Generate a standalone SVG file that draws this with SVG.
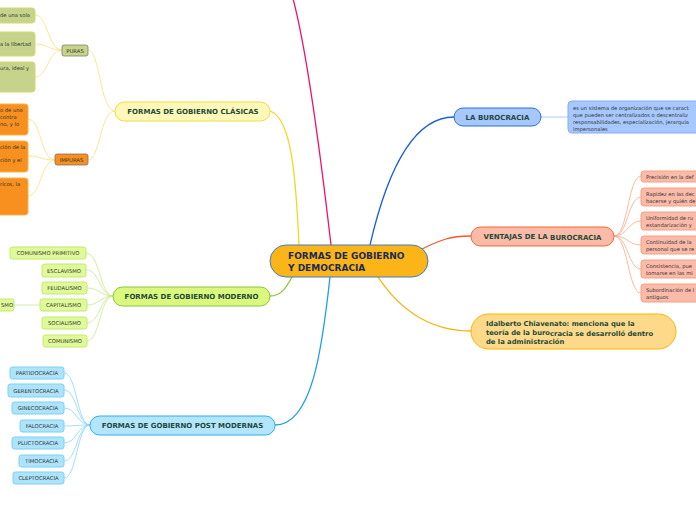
<svg xmlns="http://www.w3.org/2000/svg" width="696" height="520" viewBox="0 0 696 520">
<style>
text{font-family:"DejaVu Sans",Verdana,sans-serif}
.main{font-size:7px;font-weight:bold;fill:#1d4a3a;text-anchor:middle}
.sm{font-size:5.3px;fill:#333;text-anchor:middle}
.tx{font-size:5.2px;fill:#333}
.c{fill:none;stroke-width:1.3}
.f{fill:none;stroke-width:0.8}
.pg{fill:#C5D48A;stroke:#D8D868;stroke-width:1}
.po{fill:#F7901E;stroke:#F5B545;stroke-width:1}
.pm{fill:#E0FA9A;stroke:#C2EA6A;stroke-width:1}
.pb{fill:#AEE4FB;stroke:#7CCFF4;stroke-width:1}
.pv{fill:#FBBBA8;stroke:#F5A080;stroke-width:1}
</style>
<g id="connectors">
<path class="c" d="M331,245 C320,150 306,45 292,-5" stroke="#F0126A"/>
<path class="c" d="M299,245 C296,180 292,118 270,111" stroke="#F0D820"/>
<path class="c" d="M370,245 C385,180 410,117 454,117" stroke="#1C5FD6"/>
<path class="c" d="M292,277 C285,290 280,296 270,296" stroke="#8CC43C"/>
<path class="c" d="M330,277 C322,350 312,425 275,425" stroke="#1AA0E6"/>
<path class="c" d="M420,250 C440,240 450,236 471,236" stroke="#F4582A"/>
<path class="c" d="M378,277 C400,310 430,331 471,331" stroke="#F9B000"/>
<g stroke="#F5E27A">
<path class="f" d="M115,111 C100,111 100,50 88,50"/>
<path class="f" d="M115,111 C100,111 100,160 88,160"/>
<path class="f" d="M62,50 C48,50 48,15 35,15"/>
<path class="f" d="M62,50 C48,50 48,44 35,44"/>
<path class="f" d="M62,50 C48,50 48,77 35,77"/>
<path class="f" d="M55,160 C41,160 41,119 28,119"/>
<path class="f" d="M55,160 C41,160 41,156 28,156"/>
<path class="f" d="M55,160 C41,160 41,196 28,196"/>
</g>
<g stroke="#C8E88A">
<path class="f" d="M113,296 C100,296 100,253 86,253"/>
<path class="f" d="M113,296 C100,296 100,270 86,270"/>
<path class="f" d="M113,296 C100,296 100,288 87,288"/>
<path class="f" d="M113,296 C100,296 100,305 87,305"/>
<path class="f" d="M113,296 C100,296 100,323 87,323"/>
<path class="f" d="M113,296 C100,296 100,341 87,341"/>
<path class="f" d="M40,305 L14,305"/>
</g>
<g stroke="#8AD4F6">
<path class="f" d="M90,425 C77,425 77,373 64,373"/>
<path class="f" d="M90,425 C77,425 77,390 64,390"/>
<path class="f" d="M90,425 C77,425 77,408 64,408"/>
<path class="f" d="M90,425 C77,425 77,426 64,426"/>
<path class="f" d="M90,425 C77,425 77,443 64,443"/>
<path class="f" d="M90,425 C77,425 77,461 64,461"/>
<path class="f" d="M90,425 C77,425 77,478 64,478"/>
</g>
<path class="f" d="M541,117 L568,117" stroke="#9ABCF0"/>
<g stroke="#F8A888">
<path class="f" d="M614,236 C628,236 628,176 641,176"/>
<path class="f" d="M614,236 C628,236 628,197 641,197"/>
<path class="f" d="M614,236 C628,236 628,221 641,221"/>
<path class="f" d="M614,236 C628,236 628,245 641,245"/>
<path class="f" d="M614,236 C628,236 628,269 641,269"/>
<path class="f" d="M614,236 C628,236 628,293 641,293"/>
</g>
</g>
<g id="central">
<rect x="270" y="245" width="158" height="32" rx="16" fill="#FBB519" stroke="#3A80C4" stroke-width="1"/>
<text x="288" y="259" style="font-size:9px;font-weight:bold;fill:#1a2a55">FORMAS DE GOBIERNO</text>
<text x="288" y="271" style="font-size:9px;font-weight:bold;fill:#1a2a55">Y DEMOCRACIA</text>
</g>
<g id="clasicas">
<rect x="115" y="102" width="155" height="19" rx="9.5" fill="#FFF8B8" stroke="#F0DC3A" stroke-width="1"/>
<text class="main" x="193" y="113.5">FORMAS DE GOBIERNO CLÁSICAS</text>
</g>
<g id="puras">
<rect x="62" y="45" width="26" height="11" rx="2" fill="#C5D48A" stroke="#7E806A" stroke-width="0.8"/>
<text class="sm" x="75" y="52.5">PURAS</text>
</g>
<g id="pura1"><rect class="pg" x="-10" y="8" width="45" height="15" rx="3"/><text class="tx" x="0" y="17">de una sola</text></g>
<g id="pura2"><rect class="pg" x="-10" y="32" width="45" height="24" rx="3"/><text class="tx" x="0" y="46">a la libertad</text></g>
<g id="pura3"><rect class="pg" x="-10" y="62" width="45" height="30" rx="3"/><text class="tx" x="0" y="70">ura, ideal y</text></g>
<g id="impuras">
<rect x="55" y="154" width="33" height="11" rx="2" fill="#F7901E" stroke="#7E706A" stroke-width="0.8"/>
<text class="sm" x="71.5" y="161.5">IMPURAS</text>
</g>
<g id="impura1"><rect class="po" x="-10" y="104" width="38" height="31" rx="3"/><text class="tx" x="0" y="112">o de uno</text><text class="tx" x="0" y="119">contra</text><text class="tx" x="0" y="126">no, y lo</text></g>
<g id="impura2"><rect class="po" x="-10" y="141" width="38" height="31" rx="3"/><text class="tx" x="0" y="149">ción de la</text><text class="tx" x="0" y="162">ción y el</text></g>
<g id="impura3"><rect class="po" x="-10" y="178" width="38" height="37" rx="3"/><text class="tx" x="0" y="186">ricos, la</text></g>
<g id="moderno">
<rect x="113" y="287" width="157" height="19" rx="9.5" fill="#DAF77E" stroke="#8CC43C" stroke-width="1"/>
<text class="main" x="191.5" y="298.5">FORMAS DE GOBIERNO MODERNO</text>
</g>
<g id="m1"><rect class="pm" x="10" y="247" width="76" height="12" rx="2.5"/><text class="sm" x="48" y="255">COMUNISMO PRIMITIVO</text></g>
<g id="m2"><rect class="pm" x="42" y="264" width="44" height="13" rx="2.5"/><text class="sm" x="64" y="272.5">ESCLAVISMO</text></g>
<g id="m3"><rect class="pm" x="42" y="282" width="45" height="12" rx="2.5"/><text class="sm" x="64.5" y="290">FEUDALISMO</text></g>
<g id="m4"><rect class="pm" x="40" y="299" width="47" height="12" rx="2.5"/><text class="sm" x="63.5" y="307">CAPITALISMO</text></g>
<g id="m4a"><rect class="pm" x="-20" y="299" width="34" height="12" rx="2.5"/><text class="sm" x="1" y="307" style="text-anchor:start">SMO</text></g>
<g id="m5"><rect class="pm" x="42" y="317" width="45" height="12" rx="2.5"/><text class="sm" x="64.5" y="325">SOCIALISMO</text></g>
<g id="m6"><rect class="pm" x="43" y="335" width="44" height="12" rx="2.5"/><text class="sm" x="65" y="343">COMUNISMO</text></g>
<g id="post">
<rect x="90" y="416" width="185" height="19" rx="9.5" fill="#B3E5FC" stroke="#29B0F0" stroke-width="1"/>
<text class="main" x="182.5" y="427.5">FORMAS DE GOBIERNO POST MODERNAS</text>
</g>
<g id="p1"><rect class="pb" x="10" y="367" width="54" height="12" rx="2.5"/><text class="sm" x="37" y="375">PARTIDOCRACIA</text></g>
<g id="p2"><rect class="pb" x="8" y="384" width="56" height="13" rx="2.5"/><text class="sm" x="36" y="392.5">GERENTOCRACIA</text></g>
<g id="p3"><rect class="pb" x="12" y="402" width="52" height="12" rx="2.5"/><text class="sm" x="38" y="410">GINECOCRACIA</text></g>
<g id="p4"><rect class="pb" x="20" y="420" width="44" height="12" rx="2.5"/><text class="sm" x="42" y="428">FALOCRACIA</text></g>
<g id="p5"><rect class="pb" x="12" y="437" width="52" height="12" rx="2.5"/><text class="sm" x="38" y="445">PLUCTOCRACIA</text></g>
<g id="p6"><rect class="pb" x="19" y="455" width="45" height="12" rx="2.5"/><text class="sm" x="41.5" y="463">TIMOCRACIA</text></g>
<g id="p7"><rect class="pb" x="13" y="472" width="51" height="12" rx="2.5"/><text class="sm" x="38.5" y="480">CLEPTOCRACIA</text></g>
<g id="burocracia">
<rect x="454" y="108" width="87" height="18" rx="9" fill="#A6C8FF" stroke="#2A70D0" stroke-width="1"/>
<text class="main" x="497.5" y="119.5">LA BUROCRACIA</text>
</g>
<g id="buro-def">
<rect x="568" y="101" width="140" height="32" rx="4" fill="#A6C8FF" stroke="#86ACF0" stroke-width="1"/>
<text class="tx" x="573" y="109.5">es un sistema de organización que se caract</text>
<text class="tx" x="573" y="116.5">que pueden ser centralizados o descentraliz</text>
<text class="tx" x="573" y="123.5">responsabilidades, especialización, jerarquía</text>
<text class="tx" x="573" y="130.5">impersonales</text>
</g>
<g id="ventajas">
<rect x="471" y="227" width="143" height="19" rx="9.5" fill="#FBBBA8" stroke="#F4673A" stroke-width="1"/>
<text class="main" x="542.5" y="238.5">VENTAJAS DE LA <tspan dy="1">BUROCRACIA</tspan></text>
</g>
<g id="v1"><rect class="pv" x="641" y="171" width="65" height="11" rx="3"/><text class="tx" x="646" y="178.5">Precisión en la def</text></g>
<g id="v2"><rect class="pv" x="641" y="188" width="65" height="18" rx="3"/><text class="tx" x="646" y="196">Rapidez en las dec</text><text class="tx" x="646" y="202.5">hacerse y quién de</text></g>
<g id="v3"><rect class="pv" x="641" y="212" width="65" height="18" rx="3"/><text class="tx" x="646" y="220">Uniformidad de ru</text><text class="tx" x="646" y="226.5">estandarización y</text></g>
<g id="v4"><rect class="pv" x="641" y="236" width="65" height="18" rx="3"/><text class="tx" x="646" y="244">Continuidad de la</text><text class="tx" x="646" y="250.5">personal que se re</text></g>
<g id="v5"><rect class="pv" x="641" y="260" width="65" height="18" rx="3"/><text class="tx" x="646" y="268">Consistencia, pue</text><text class="tx" x="646" y="274.5">tomarse en las mi</text></g>
<g id="v6"><rect class="pv" x="641" y="284" width="65" height="18" rx="3"/><text class="tx" x="646" y="292">Subordinación de l</text><text class="tx" x="646" y="298.5">antiguos</text></g>
<g id="idalberto">
<rect x="471" y="314" width="205" height="35" rx="17.5" fill="#FFD98A" stroke="#F9B800" stroke-width="1"/>
<text x="486" y="326" style="font-size:6.8px;font-weight:bold;fill:#1d4a3a">Idalberto Chiavenato: menciona que la</text>
<text x="486" y="334.5" style="font-size:6.8px;font-weight:bold;fill:#1d4a3a">teoría de la buro<tspan dy="1">cracia se desarrolló dentro</tspan></text>
<text x="486" y="343.5" style="font-size:6.8px;font-weight:bold;fill:#1d4a3a">de la administración</text>
</g>
</svg>
